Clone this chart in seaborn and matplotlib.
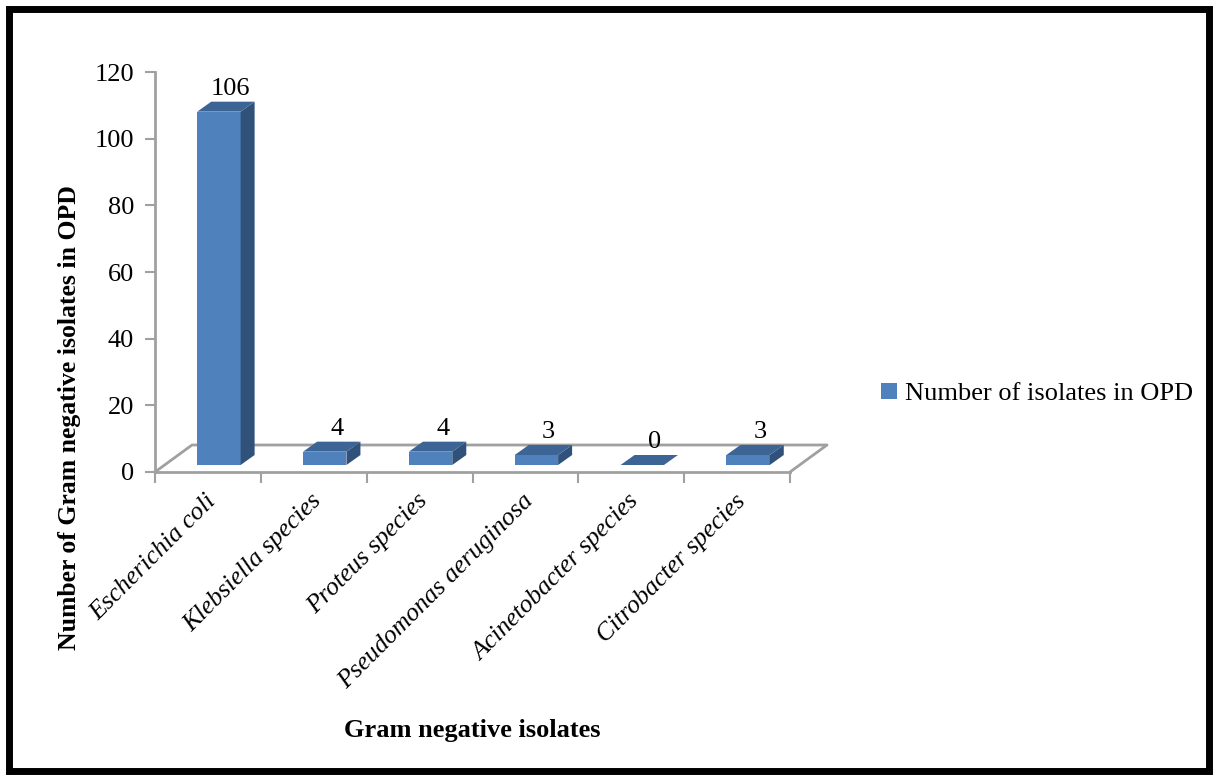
import matplotlib
matplotlib.use("Agg")
import matplotlib.pyplot as plt
import seaborn as sns
import numpy as np
from matplotlib.patches import Polygon, Rectangle, Patch
from matplotlib.lines import Line2D
from matplotlib.transforms import ScaledTranslation

# ---- data ----
isolates = ["Escherichia coli", "Klebsiella species", "Proteus species",
            "Pseudomonas aeruginosa", "Acinetobacter species", "Citrobacter species"]
counts = [106, 4, 4, 3, 0, 3]
y_ticks = [0, 20, 40, 60, 80, 100, 120]
series_name = "Number of isolates in OPD"

# ---- style ----
FRONT = "#4F81BD"
TOP = "#3C6596"
SIDE = "#30517A"
GRID = "#A0A0A0"
SERIF = "Liberation Serif"
FS = 19

sns.set_theme(style="white")
plt.rcParams["font.family"] = [SERIF, "DejaVu Serif"]
plt.rcParams["text.color"] = "black"
plt.rcParams["xtick.color"] = "black"
plt.rcParams["ytick.color"] = "black"

W, H = 1218, 780
fig = plt.figure(figsize=(W / 100, H / 100), dpi=100)
ax = fig.add_axes([155 / W, (H - 472) / H, 635 / W, 400 / H])

sns.barplot(x=isolates, y=counts, ax=ax, color=FRONT, width=0.41,
            saturation=1, edgecolor="none", linewidth=0)
ax.set_xlim(-0.5, len(isolates) - 0.5)
ax.set_ylim(0, 120)

# bars sit half-way into the floor depth
BAR_DX, BAR_DY = 11, 7        # pixel shift of the bar front face
DEP_DX, DEP_DY = 14, 10       # bar depth in pixels
FLOOR_DX, FLOOR_DY = 37, 27   # floor depth in pixels

shift = ScaledTranslation(BAR_DX / 100, BAR_DY / 100, fig.dpi_scale_trans)
for p in ax.patches:
    p.set_transform(ax.transData + shift)

# axes styling
for s in ["top", "right"]:
    ax.spines[s].set_visible(False)
for s in ["left", "bottom"]:
    ax.spines[s].set_color(GRID)
    ax.spines[s].set_linewidth(2)
ax.set_yticks(y_ticks)
ax.set_yticklabels([str(v) for v in y_ticks], fontsize=FS, color="black")
ax.tick_params(axis="y", direction="out", length=7, width=1.5, color=GRID,
               pad=8, left=True, labelcolor="black")
ax.set_xticks(np.arange(len(isolates)))
ax.set_xticks(np.arange(len(isolates) + 1) - 0.5, minor=True)
ax.tick_params(axis="x", which="minor", direction="out", length=8, width=1.5,
               color=GRID, bottom=True)
ax.tick_params(axis="x", which="major", length=0, pad=13, labelcolor="black")
ax.set_xticklabels(isolates, fontsize=FS - 0.5, style="italic", rotation=45,
                   ha="right", va="top", rotation_mode="anchor", color="black")
lab_shift = ScaledTranslation(-3 / 100, 0, fig.dpi_scale_trans)
for t in ax.get_xticklabels():
    t.set_transform(t.get_transform() + lab_shift)
ax.set_xlabel("")
ax.set_ylabel("")
ax.grid(False)

fig.canvas.draw()
to_fig = fig.transFigure.inverted()


def px(xd, yd, dx=0, dy=0):
    x, y = ax.transData.transform((xd, yd))
    return to_fig.transform((x + dx, y + dy))


# floor outline (right and back edges, left diagonal)
x0, x1 = -0.5, len(isolates) - 0.5
fl = [px(x0, 0), px(x0, 0, FLOOR_DX, FLOOR_DY), px(x1, 0, FLOOR_DX, FLOOR_DY), px(x1, 0)]
fig.add_artist(Line2D([fl[0][0], fl[1][0], fl[2][0], fl[3][0]],
                      [fl[0][1], fl[1][1], fl[2][1], fl[3][1]],
                      color=GRID, lw=2, transform=fig.transFigure, zorder=1))
ax.set_zorder(2)
ax.patch.set_alpha(0)

# side and top faces of each bar, plus value labels
for p, v in zip(ax.patches, counts):
    bx0 = p.get_x()
    bx1 = bx0 + p.get_width()
    h = p.get_height()
    side = [px(bx1, 0, BAR_DX, BAR_DY), px(bx1, h, BAR_DX, BAR_DY),
            px(bx1, h, BAR_DX + DEP_DX, BAR_DY + DEP_DY),
            px(bx1, 0, BAR_DX + DEP_DX, BAR_DY + DEP_DY)]
    top = [px(bx0, h, BAR_DX, BAR_DY), px(bx1, h, BAR_DX, BAR_DY),
           px(bx1, h, BAR_DX + DEP_DX, BAR_DY + DEP_DY),
           px(bx0, h, BAR_DX + DEP_DX, BAR_DY + DEP_DY)]
    if h > 0:
        fig.add_artist(Polygon(side, closed=True, facecolor=SIDE, edgecolor="none",
                               transform=fig.transFigure, zorder=3))
    fig.add_artist(Polygon(top, closed=True, facecolor=TOP, edgecolor="none",
                           transform=fig.transFigure, zorder=3))
    cx = bx0 + p.get_width() / 2
    lx, ly = px(cx, h, BAR_DX + DEP_DX / 2 + 5, BAR_DY + DEP_DY + 2)
    fig.text(lx, ly, f"{v}", ha="center", va="bottom", fontsize=FS,
             color="black", zorder=4)

# axis titles
fig.text(70 / W, 1 - 418 / H, "Number of Gram negative isolates in OPD",
         rotation=90, ha="center", va="center", fontsize=18.5, fontweight="bold")
fig.text(472 / W, 1 - 730 / H, "Gram negative isolates",
         ha="center", va="center", fontsize=19, fontweight="bold")

# legend
fig.legend(handles=[Patch(facecolor=FRONT, edgecolor="none", label=series_name)],
           loc="center left", bbox_to_anchor=(881 / W, 1 - 394 / H),
           frameon=False, fontsize=FS, handlelength=0.6, handleheight=0.6,
           handletextpad=0.3, borderpad=0, borderaxespad=0,
           labelcolor="black")

# outer frame
fig.add_artist(Rectangle((9 / W, 9 / H), 1 - 18 / W, 1 - 18 / H, fill=False,
                         edgecolor="black", lw=5, transform=fig.transFigure,
                         zorder=10))

fig.savefig("out.png", dpi=100)
